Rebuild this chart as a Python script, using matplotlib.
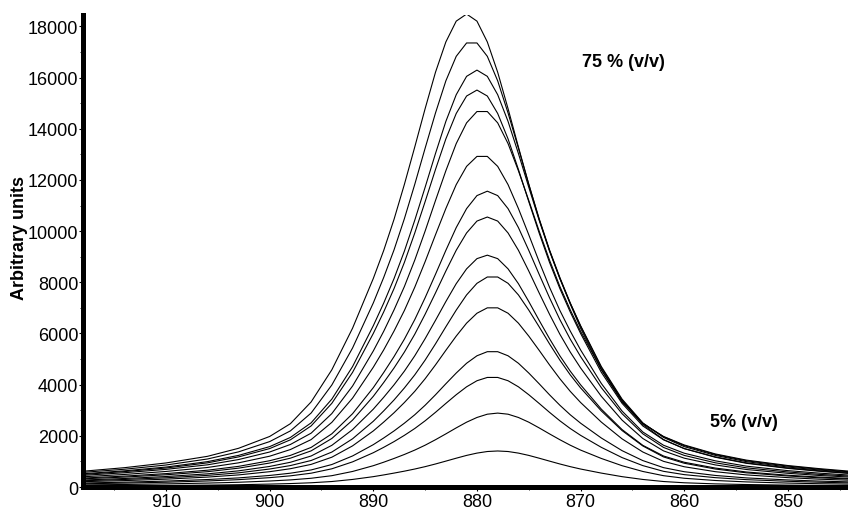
import numpy as np
from matplotlib import pyplot as plt
from matplotlib.ticker import MultipleLocator

plt.rcParams['font.family'] = ['Liberation Sans', 'DejaVu Sans']

# wavenumber grid the curves were read at
wn = [918, 914, 910, 906, 903, 900, 898, 896, 894, 892,
      890, 889, 888, 887, 886, 885, 884, 883, 882, 881,
      880, 879, 878, 877, 876, 875, 874, 873, 872, 871,
      870, 868, 866, 864, 862, 860, 857, 854, 850, 847, 844]

# spectra, highest (75 % v/v) to lowest (5 % v/v)
s75 = [619, 758, 942, 1201, 1515, 1977, 2476, 3326, 4583, 6209,
       8150, 9240, 10460, 11827, 13287, 14784, 16207, 17390, 18203, 18480,
       18203, 17390, 16207, 14784, 13287, 11827, 10460, 9240, 8150, 7152,
       6209, 4583, 3326, 2476, 1977, 1645, 1294, 1053, 841, 721, 619]
s70 = [575, 697, 862, 1097, 1376, 1777, 2195, 2892, 3989, 5435,
       7194, 8187, 9267, 10487, 11828, 13239, 14615, 15870, 16828, 17350,
       17350, 16828, 15870, 14615, 13239, 11828, 10487, 9267, 8187, 7194,
       6289, 4669, 3397, 2491, 1968, 1620, 1272, 1028, 819, 697, 592]
s65 = [521, 635, 782, 994, 1238, 1580, 1939, 2509, 3437, 4708,
       6304, 7184, 8145, 9220, 10426, 11713, 13032, 14286, 15329, 16046,
       16290, 16046, 15329, 14286, 13032, 11713, 10426, 9220, 8145, 7184,
       6304, 4708, 3437, 2509, 1939, 1580, 1238, 994, 782, 668, 570]
s60 = [496, 605, 744, 946, 1179, 1504, 1846, 2389, 3273, 4482,
       6002, 6840, 7755, 8779, 9926, 11152, 12408, 13602, 14595, 15277,
       15510, 15277, 14595, 13602, 12408, 11152, 9926, 8779, 7755, 6840,
       6002, 4482, 3273, 2389, 1846, 1504, 1179, 946, 744, 636, 543]
s55 = [457, 560, 692, 869, 1075, 1370, 1664, 2106, 2872, 3948,
       5318, 6083, 6923, 7836, 8867, 10002, 11195, 12358, 13419, 14229,
       14671, 14671, 14229, 13419, 12358, 11195, 10002, 8867, 7836, 6923,
       6083, 4596, 3373, 2445, 1856, 1502, 1164, 928, 729, 619, 530]
s50 = [402, 493, 610, 765, 947, 1206, 1466, 1855, 2529, 3476,
       4682, 5357, 6096, 6900, 7808, 8807, 9857, 10882, 11816, 12529,
       12918, 12918, 12529, 11816, 10882, 9857, 8807, 7808, 6900, 6096,
       5357, 4047, 2970, 2153, 1634, 1323, 1025, 817, 642, 545, 467]
s45 = [353, 428, 526, 659, 809, 1029, 1237, 1549, 2081, 2867,
       3884, 4474, 5098, 5780, 6543, 7398, 8312, 9248, 10138, 10878,
       11387, 11560, 11387, 10878, 10138, 9248, 8312, 7398, 6543, 5780,
       5098, 3884, 2867, 2081, 1549, 1237, 948, 751, 590, 497, 428]
s40 = [322, 390, 480, 601, 739, 939, 1129, 1414, 1899, 2616,
       3545, 4083, 4653, 5275, 5971, 6752, 7585, 8440, 9252, 9928,
       10392, 10550, 10392, 9928, 9252, 8440, 7585, 6752, 5971, 5275,
       4653, 3545, 2616, 1899, 1414, 1129, 865, 686, 538, 454, 390]
s35 = [276, 335, 412, 516, 634, 806, 969, 1214, 1631, 2247,
       3044, 3506, 3995, 4530, 5128, 5798, 6514, 7248, 7946, 8525,
       8924, 9060, 8924, 8525, 7946, 7248, 6514, 5798, 5128, 4530,
       3995, 3044, 2247, 1631, 1214, 969, 743, 589, 462, 390, 335]
s30 = [247, 297, 363, 457, 556, 705, 840, 1038, 1368, 1887,
       2571, 2975, 3403, 3873, 4384, 4960, 5595, 6262, 6913, 7507,
       7960, 8207, 8207, 7960, 7507, 6913, 6262, 5595, 4960, 4384,
       3873, 2975, 2208, 1607, 1178, 931, 705, 556, 433, 363, 313]
s25 = [211, 253, 309, 390, 475, 601, 717, 886, 1167, 1610,
       2193, 2538, 2903, 3304, 3740, 4232, 4773, 5343, 5898, 6404,
       6791, 7002, 7002, 6791, 6404, 5898, 5343, 4773, 4232, 3740,
       3304, 2538, 1884, 1371, 1005, 794, 601, 475, 369, 309, 267]
s20 = [159, 191, 234, 295, 358, 454, 542, 669, 881, 1216,
       1657, 1917, 2193, 2496, 2825, 3197, 3605, 4036, 4455, 4837,
       5129, 5289, 5289, 5129, 4837, 4455, 4036, 3605, 3197, 2825,
       2496, 1917, 1423, 1035, 759, 600, 454, 358, 279, 234, 202]
s15 = [129, 155, 189, 239, 290, 368, 439, 542, 714, 985,
       1342, 1552, 1776, 2021, 2288, 2589, 2920, 3268, 3608, 3917,
       4154, 4283, 4283, 4154, 3917, 3608, 3268, 2920, 2589, 2288,
       2021, 1552, 1152, 839, 615, 486, 368, 290, 226, 189, 163]
s10 = [84, 101, 124, 156, 188, 237, 280, 344, 445, 610,
       835, 971, 1118, 1274, 1445, 1636, 1850, 2078, 2312, 2535,
       2719, 2847, 2890, 2847, 2719, 2535, 2312, 2078, 1850, 1636,
       1445, 1118, 835, 610, 445, 344, 257, 202, 156, 131, 113]
s05 = [41, 49, 61, 76, 92, 116, 137, 168, 217, 298,
       407, 474, 546, 622, 705, 798, 902, 1014, 1128, 1237,
       1327, 1389, 1410, 1389, 1327, 1237, 1128, 1014, 902, 798,
       705, 546, 407, 298, 217, 168, 125, 99, 76, 64, 55]

spectra = [s75, s70, s65, s60, s55, s50, s45, s40, s35, s30, s25, s20, s15, s10, s05]

fig = plt.figure(figsize=(8.48, 5.10), dpi=100)
ax = fig.add_axes([0.098, 0.043, 0.902, 0.926])

for s in spectra:
    ax.plot(wn, s, color='black', linewidth=0.8)

ax.set_xlim(918, 844.2)
ax.set_ylim(0, 18450)

ax.spines['top'].set_visible(False)
ax.spines['right'].set_visible(False)
ax.spines['left'].set_linewidth(3.6)
ax.spines['bottom'].set_linewidth(3.6)

ax.xaxis.set_major_locator(MultipleLocator(10))
ax.xaxis.set_minor_locator(MultipleLocator(5))
ax.yaxis.set_major_locator(MultipleLocator(2000))
ax.yaxis.set_minor_locator(MultipleLocator(1000))
ax.tick_params(axis='both', which='major', labelsize=13, length=3, width=0.8, pad=1.5)
ax.tick_params(axis='both', which='minor', length=2, width=0.6)
ax.tick_params(axis='y', pad=0.5)

ax.set_ylabel('Arbitrary units', fontsize=13, fontweight='bold')
ax.yaxis.set_label_coords(-0.072, 0.53)

ax.text(865.9, 16640, '75 % (v/v)', fontsize=13, fontweight='bold', ha='center', va='center')
ax.text(854.2, 2580, '5% (v/v)', fontsize=13, fontweight='bold', ha='center', va='center')

fig.savefig('out.png', dpi=100)
